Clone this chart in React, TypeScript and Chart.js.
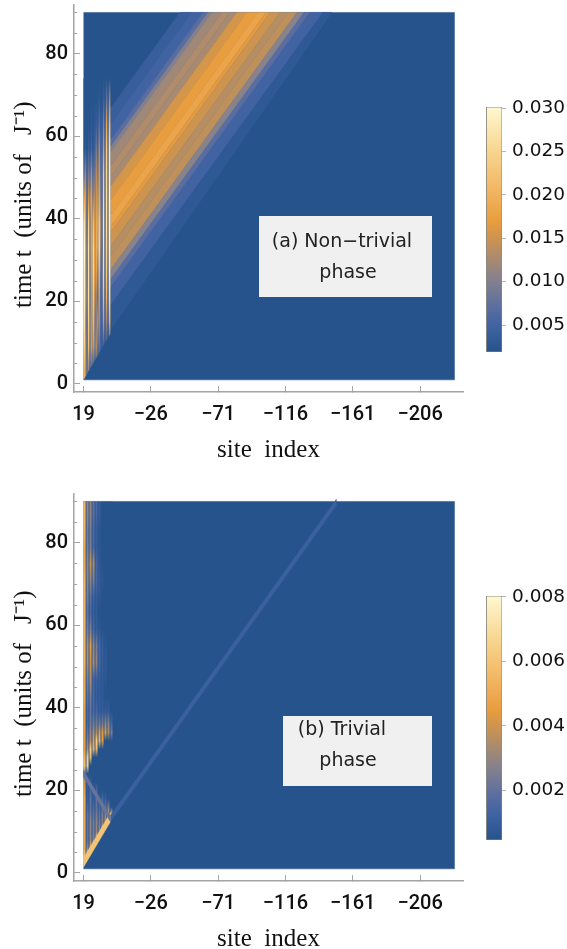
import React, { useEffect, useRef } from "react";
import { Chart, registerables } from "chart.js";

Chart.register(...registerables);

// ---------- axes ----------
const siteTicks = [19, -26, -71, -116, -161, -206];
const timeTicks = [0, 20, 40, 60, 80];
const timeMinor = [5, 10, 15, 25, 30, 35, 45, 50, 55, 65, 70, 75, 85, 90];
const barTicksA = [0.005, 0.01, 0.015, 0.02, 0.025, 0.03];
const barMinorA = [0.002, 0.003, 0.004, 0.006, 0.007, 0.008, 0.009, 0.011, 0.012, 0.013, 0.014, 0.016, 0.017, 0.018, 0.019, 0.021, 0.022, 0.023, 0.024, 0.026, 0.027, 0.028, 0.029];
const barTicksB = [0.002, 0.004, 0.006, 0.008];
const barMinorB = [0.0005, 0.001, 0.0015, 0.0025, 0.003, 0.0035, 0.0045, 0.005, 0.0055, 0.0065, 0.007, 0.0075];

// ---------- colour scale (fraction, colour) ----------
const mapFractions = [0, 0.1, 0.18, 0.29, 0.38, 0.46, 0.53, 0.65, 0.82, 1];
const mapColors = ["#26538b", "#3e62a2", "#5a6da0", "#82808f", "#a98a70", "#cb9350", "#e89c3e", "#f1b45f", "#f8d58f", "#fff8d2"];

// ---------- panel (a): travelling wave packet, values in units of 0.001 ----------
const bandTopSites = [-45.5, -53.5, -60.9, -64.2, -66.9, -73.6, -78.9, -83.6, -90.3, -97.6, -103, -105.7, -112.3, -117.7, -123.7, -128.4, -132.4, -141.1, -147.1];
const bandEntryTimes = [66.8, 62.8, 59, 57.4, 56, 52.7, 50, 47.7, 44.4, 40.7, 38, 36.6, 33.3, 30.7, 27.6, 25.3, 23.3, 19, 13];
const bandValues = [4, 5, 7, 10, 12, 13, 12.5, 15.5, 17, 18, 16.5, 15, 13.5, 14, 10.5, 7, 5, 3];

// panel (a): edge-localised part, one column per site (19 down to 2); rows are centred on edgeTimesA
const edgeTimesA = [3, 9, 15, 21, 27, 33, 39, 45, 51, 57, 63, 69, 74];
const edgeOnsetA = [1, 1.6, 2.2, 2.9, 3.5, 4.1, 4.7, 5.3, 6, 6.6, 7.2, 7.8, 8.4, 9.1, 9.7, 10.3, 10.9, 11.5, 12.1];
const edgeRowsA = [
  [20, 14, 8, 10, 6, 6, 3, 3, 2, 2, 2, 2, 2, 2, 2, 2, 2, 2],
  [24, 16, 8, 22, 10, 16, 16, 10, 14, 8, 8, 5, 4, 4, 3, 3, 2, 2],
  [28, 14, 8, 25, 12, 14, 22, 12, 10, 14, 14, 6, 6, 16, 6, 12, 6, 20],
  [28, 18, 10, 27, 10, 15, 24, 15, 12, 7, 18, 6, 8, 22, 7, 20, 8, 26],
  [29, 18, 9, 27, 11, 16, 26, 17, 18, 10, 22, 8, 9, 26, 9, 24, 10, 29],
  [30, 18, 10, 27, 12, 17, 26, 17, 20, 16, 27, 12, 8, 28, 10, 26, 12, 30],
  [27, 18, 8, 25, 12, 17, 22, 16, 19, 17, 25, 13, 9, 28, 10, 27, 12, 30],
  [18, 17, 7, 15, 14, 17, 12, 13, 16, 14, 20, 10, 8, 26, 10, 27, 12, 30],
  [8, 12, 5, 9, 8, 13, 7, 8, 14, 9, 17, 8, 8, 23, 10, 26, 11, 29],
  [2, 3, 2, 4, 3, 5, 3, 4, 9, 5, 13, 6, 6, 16, 8, 24, 10, 27],
  [2, 2, 2, 2, 2, 3, 2, 3, 4, 3, 7, 4, 4, 10, 5, 18, 7, 22],
  [2, 2, 2, 2, 2, 2, 2, 2, 2, 2, 3, 2, 2, 4, 3, 8, 4, 12],
  [2, 2, 2, 2, 2, 2, 2, 2, 2, 2, 2, 2, 2, 2, 2, 2, 2, 2],
];

// ---------- panel (b): edge part, one column per second site (19, 17 ... 1); rows centred on edgeTimesB ----------
const edgeSitesB = [19, 17, 15, 13, 11, 9, 7, 5, 3, 1];
const edgeTimesB = [2, 4, 6, 8, 10, 12, 14, 16, 18, 20, 22, 24, 26, 28, 30, 32, 34, 36, 39, 43, 47, 51, 55, 59, 63, 67, 71, 75, 79, 83, 87, 90];
const edgeRowsB = [
  [7, 0, 0, 0, 0, 0, 0, 0, 0, 0],
  [6, 7, 5, 0, 0, 0, 0, 0, 0, 0],
  [5, 3, 5, 7, 6, 0, 0, 0, 0, 0],
  [5, 2, 3, 3, 6, 7, 0, 0, 0, 0],
  [5, 2, 3, 2.5, 3, 3, 7, 6, 0, 0],
  [5, 2, 3, 2.5, 3, 2.5, 3, 4, 7, 7],
  [5, 2, 2.5, 2, 2.5, 2, 2.5, 3, 4, 5.5],
  [5, 1.5, 2, 1.5, 2, 1.5, 2, 2, 2.5, 0],
  [5, 1, 2, 1, 2, 1, 1.5, 1, 0, 0],
  [4.5, 1, 1.5, 1, 1.5, 0, 0, 0, 0, 0],
  [4, 1, 1, 0, 0, 0, 0, 0, 0, 0],
  [2, 0, 0, 0, 0, 0, 0, 0, 0, 0],
  [6, 6.5, 0, 0, 0, 0, 0, 0, 0, 0],
  [5.5, 6.5, 5.5, 0, 0, 0, 0, 0, 0, 0],
  [4.5, 3.5, 6.5, 5.5, 5.5, 0, 0, 0, 0, 0],
  [4.5, 2.5, 3.5, 4.5, 6.5, 5.5, 4.5, 0, 0, 0],
  [4.5, 2, 3, 3.5, 3.5, 4.5, 4.5, 4.5, 3.5, 2.5],
  [4.5, 1.5, 2.5, 2.5, 2.5, 2.5, 2.5, 3, 3, 1.5],
  [4.5, 1.5, 2, 1.5, 1.5, 1, 1, 1, 1, 0],
  [5, 2, 2.5, 1.5, 1, 1, 0.8, 0, 0, 0],
  [5, 2.5, 3.5, 1.5, 1.2, 1, 0.8, 0.7, 0, 0],
  [5.5, 3.5, 4, 3.5, 3, 1.5, 1, 0.8, 0, 0],
  [5.5, 3.5, 4.5, 3, 2.5, 1.5, 1, 0.7, 0, 0],
  [5.5, 2.5, 2.5, 1.5, 1, 0.7, 0, 0, 0, 0],
  [5.5, 2, 1.5, 1, 0.8, 0, 0, 0, 0, 0],
  [5.5, 2.5, 2, 1.2, 1, 0.8, 0, 0, 0, 0],
  [5.5, 3, 3, 2.5, 1.5, 1, 0.7, 0, 0, 0],
  [5, 3, 4, 3.5, 1.5, 0.8, 0, 0, 0, 0],
  [5, 2.5, 2.5, 1.5, 1, 0.7, 0, 0, 0, 0],
  [5.5, 2.5, 2.5, 1.5, 1, 0.7, 0, 0, 0, 0],
  [5.5, 3, 3, 2, 1.5, 1, 0, 0, 0, 0],
  [5.5, 3, 3, 2, 1.5, 1, 0, 0, 0, 0],
];
const edgeOnsetB = [1.5, 3, 4.2, 5.4, 6.6, 7.8, 9, 10.2, 11.4, 12.6];
// panel (b): first wavefront and its reflection: start site, start time, end site, end time, value
const frontSites = [19, 1, 1];
const frontEndSites = [1, 19, -150];
const frontTimes = [1.4, 12.4, 12.4];
const frontEndTimes = [12.4, 23.4, 89];
const frontWidths = [2.2, 1.4, 1.5];
const frontValues = [6, 2.1, 1.1];

// ---------- ranges ----------
const imageSites = [19, -229];
const imageTimes = [1, 90];
const rangeA = [1.89, 30.12];
const rangeB = [0.45, 8.03];

function hexRgb(h: string) {
  return [1, 3, 5].map((i) => parseInt(h.slice(i, i + 2), 16));
}
function colorOf(v: number, range: number[]) {
  const f = Math.min(1, Math.max(0, (v - range[0]) / (range[1] - range[0])));
  let i = 0;
  while (i < mapFractions.length - 2 && f > mapFractions[i + 1]) i++;
  const k = (f - mapFractions[i]) / (mapFractions[i + 1] - mapFractions[i]);
  const a = hexRgb(mapColors[i]);
  const b = hexRgb(mapColors[i + 1]);
  return `rgb(${a.map((c, j) => Math.round(c + (b[j] - c) * k)).join(",")})`;
}

type P = { x: number; y: number };
function shape(data: P[], color: any, borderWidth = 0.5) {
  return {
    data,
    showLine: true,
    fill: "shape",
    backgroundColor: color,
    borderColor: color,
    borderWidth,
    pointRadius: 0,
  };
}
function rect(s0: number, s1: number, t0: number, t1: number, color: string) {
  return shape(
    [
      { x: s0, y: t0 },
      { x: s1, y: t0 },
      { x: s1, y: t1 },
      { x: s0, y: t1 },
    ],
    color
  );
}

// one site column painted with a vertical gradient through its table values
function column(s0: number, s1: number, on0: number, on1: number, times: number[], values: number[], range: number[]) {
  const first = times[0];
  const last = times[times.length - 1];
  const fill = (c: any) => {
    const chart = c.chart;
    if (!chart.chartArea) return mapColors[0];
    const y = chart.scales.y;
    const g = chart.ctx.createLinearGradient(0, y.getPixelForValue(first), 0, y.getPixelForValue(last));
    times.forEach((t, i) => g.addColorStop((t - first) / (last - first), colorOf(values[i], range)));
    return g;
  };
  return shape(
    [
      { x: s0, y: on0 },
      { x: s1, y: on1 },
      { x: s1, y: last },
      { x: s0, y: last },
    ],
    fill,
    0
  );
}

function datasetsA() {
  const out: any[] = [rect(imageSites[0], imageSites[1], imageTimes[0], imageTimes[1], mapColors[0])];
  bandValues.forEach((v, i) => {
    out.push(
      shape(
        [
          { x: 1, y: bandEntryTimes[i] },
          { x: bandTopSites[i], y: 90 },
          { x: bandTopSites[i + 1], y: 90 },
          { x: 1, y: bandEntryTimes[i + 1] },
        ],
        colorOf(v, rangeA)
      )
    );
  });
  edgeRowsA[0].forEach((_, c) => {
    out.push(
      column(19 - c, 18 - c, edgeOnsetA[c], edgeOnsetA[c + 1], edgeTimesA, edgeRowsA.map((r) => r[c]), rangeA)
    );
  });
  return out.reverse();
}

function datasetsB() {
  const out: any[] = [rect(imageSites[0], imageSites[1], imageTimes[0], imageTimes[1], mapColors[0])];
  edgeSitesB.forEach((s, c) => {
    out.push(
      column(s, s - 1.4, edgeOnsetB[c], edgeOnsetB[c] + 1.4, edgeTimesB, edgeRowsB.map((r) => r[c]), rangeB)
    );
  });
  frontValues.forEach((v, i) => {
    const w = frontWidths[i];
    out.push(
      shape(
        [
          { x: frontSites[i], y: frontTimes[i] },
          { x: frontEndSites[i], y: frontEndTimes[i] },
          { x: frontEndSites[i], y: frontEndTimes[i] + w },
          { x: frontSites[i], y: frontTimes[i] + w },
        ],
        colorOf(v, rangeB)
      )
    );
  });
  return out.reverse();
}

function minorTicks(axis: string, values: number[], len: number, dir: number, color: string) {
  return {
    id: "minor-" + axis,
    afterDraw(chart: any) {
      const scale = chart.scales[axis];
      const ctx = chart.ctx;
      const x0 = dir > 0 ? scale.right : scale.left;
      ctx.save();
      ctx.strokeStyle = color;
      ctx.lineWidth = 1;
      values.forEach((v) => {
        const y = Math.round(scale.getPixelForValue(v)) + 0.5;
        ctx.beginPath();
        ctx.moveTo(x0, y);
        ctx.lineTo(x0 + dir * len, y);
        ctx.stroke();
      });
      ctx.restore();
    },
  };
}

const axisGrey = "#a4a4a4";
const SANS = "Roboto";
const SERIF = "'Liberation Serif'";
const INK = "#111";

function panelConfig(datasets: any[]) {
  return {
    type: "scatter",
    data: { datasets },
    plugins: [minorTicks("y", timeMinor, 3, 1, axisGrey)],
    options: {
      responsive: false,
      animation: false,
      events: [],
      layout: { padding: { top: 5, right: 104, left: 0, bottom: 0 } },
      plugins: { legend: { display: false }, tooltip: { enabled: false } },
      scales: {
        x: {
          type: "linear",
          reverse: true,
          min: -234.7,
          max: 25.35,
          afterFit: (s: any) => {
            s.height = 78;
            s.paddingLeft = 0;
            s.paddingRight = 0;
          },
          afterBuildTicks: (s: any) => {
            s.ticks = siteTicks.map((value) => ({ value }));
          },
          border: { display: true, color: axisGrey, width: 1.5 },
          grid: { drawOnChartArea: false, tickLength: -6, tickColor: axisGrey, tickWidth: 1 },
          ticks: {
            autoSkip: false,
            maxRotation: 0,
            padding: 17,
            color: INK,
            font: { family: SANS, size: 20, weight: "500" },
            callback: (v: any) => String(v).replace("-", "\u2212"),
          },
          title: {
            display: true,
            text: "site  index",
            color: INK,
            font: { family: SERIF, size: 25 },
            padding: { top: 0, bottom: 5 },
          },
        },
        y: {
          type: "linear",
          min: -1.94,
          max: 91.8,
          afterFit: (s: any) => {
            s.width = 74;
            s.paddingTop = 0;
            s.paddingBottom = 0;
          },
          afterBuildTicks: (s: any) => {
            s.ticks = timeTicks.map((value) => ({ value }));
          },
          border: { display: true, color: axisGrey, width: 1.5 },
          grid: { drawOnChartArea: false, tickLength: -6, tickColor: axisGrey, tickWidth: 1 },
          ticks: {
            autoSkip: false,
            padding: 12,
            color: INK,
            font: { family: SANS, size: 20, weight: "500" },
          },
          title: {
            display: true,
            text: "time t  (units of   J\u207B\u00B9)  ",
            color: INK,
            font: { family: SERIF, size: 25 },
            padding: { top: 9, bottom: 0 },
          },
        },
      },
    },
  };
}

function barConfig(range: number[], ticks: number[], minor: number[], decimals: number, paddingBottom: number) {
  const lo = range[0] / 1000;
  const hi = range[1] / 1000;
  const poly = [
    { x: 0, y: lo },
    { x: 1, y: lo },
    { x: 1, y: hi },
    { x: 0, y: hi },
    { x: 0, y: lo },
  ];
  return {
    type: "scatter",
    data: {
      datasets: [
        {
          data: poly,
          showLine: true,
          fill: "shape",
          pointRadius: 0,
          borderColor: "#8a8a80",
          borderWidth: 1,
          backgroundColor: (c: any) => {
            const chart = c.chart;
            if (!chart.chartArea) return mapColors[0];
            const g = chart.ctx.createLinearGradient(0, chart.scales.y.getPixelForValue(lo), 0, chart.scales.y.getPixelForValue(hi));
            mapFractions.forEach((f, i) => g.addColorStop(f, mapColors[i]));
            return g;
          },
        },
      ],
    },
    plugins: [minorTicks("y", minor, 3, 1, "#c4c4c4")],
    options: {
      responsive: false,
      animation: false,
      events: [],
      layout: { padding: { left: 46, top: 17, right: 0, bottom: paddingBottom } },
      plugins: { legend: { display: false }, tooltip: { enabled: false } },
      scales: {
        x: { type: "linear", display: false, min: 0, max: 1 },
        y: {
          type: "linear",
          position: "right",
          min: lo,
          max: hi,
          afterFit: (s: any) => {
            s.width = 65;
            s.paddingTop = 0;
            s.paddingBottom = 0;
          },
          afterBuildTicks: (s: any) => {
            s.ticks = ticks.map((value) => ({ value }));
          },
          border: { display: false },
          grid: { drawOnChartArea: false, tickLength: 4, tickColor: "#b4b4b4", tickWidth: 1 },
          ticks: {
            autoSkip: false,
            padding: 6,
            color: INK,
            font: { family: "'DejaVu Sans'", size: 18.5 },
            callback: (v: any) => Number(v).toFixed(decimals),
          },
        },
      },
    },
  };
}

function useChart(make: () => any) {
  const ref = useRef<HTMLCanvasElement | null>(null);
  useEffect(() => {
    const chart = new Chart(ref.current as any, make());
    return () => chart.destroy();
  }, []);
  return ref;
}

function Label({ text, cx, cy }: { text: string; cx: number; cy: number }) {
  return (
    <div
      style={{
        position: "absolute",
        left: cx - 120,
        width: 240,
        top: cy - 12,
        height: 24,
        lineHeight: "24px",
        textAlign: "center",
        fontFamily: "'DejaVu Sans'",
        fontSize: 19,
        color: "#222",
      }}
    >
      {text}
    </div>
  );
}

function Box({ x, y, w, h }: { x: number; y: number; w: number; h: number }) {
  return (
    <div
      style={{
        position: "absolute",
        left: x,
        top: y,
        width: w,
        height: h,
        background: "#f0f0f0",
      }}
    />
  );
}

export default function App() {
  const a = useChart(() => panelConfig(datasetsA()));
  const b = useChart(() => panelConfig(datasetsB()));
  const ca = useChart(() => barConfig(rangeA, barTicksA, barMinorA, 3, 18));
  const cb = useChart(() => barConfig(rangeB, barTicksB, barMinorB, 3, 19));
  const abs = (top: number, left = 0) => ({ position: "absolute" as const, top, left, display: "block" });
  return (
    <div
      style={{
        position: "absolute",
        left: 0,
        top: 0,
        width: 567,
        height: 949,
        overflow: "hidden",
        background: "#fff",
        filter: "blur(0.5px)",
      }}
    >
      <canvas ref={a} width={567} height={470} style={abs(0)} />
      <canvas ref={b} width={567} height={470} style={abs(489)} />
      <canvas ref={ca} width={127} height={280} style={abs(90, 440)} />
      <canvas ref={cb} width={127} height={280} style={abs(579, 440)} />
      <Box x={259} y={216} w={173} h={81} />
      <Label text={"(a) Non\u2212trivial"} cx={342} cy={240} />
      <Label text="phase" cx={348} cy={271} />
      <Box x={283} y={716} w={149} h={70} />
      <Label text="(b) Trivial" cx={342} cy={728} />
      <Label text="phase" cx={348} cy={759} />
    </div>
  );
}
